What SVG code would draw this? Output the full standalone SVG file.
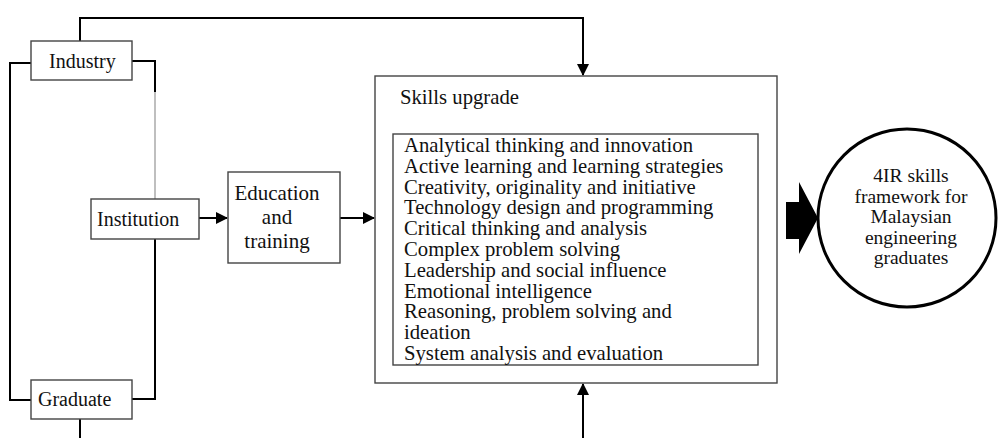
<svg xmlns="http://www.w3.org/2000/svg" width="998" height="438" viewBox="0 0 998 438">
<defs>
<style>
.box{fill:#fff;stroke:#444;stroke-width:1.4}
.ln{fill:none;stroke:#000;stroke-width:2}
.t{font-family:"Liberation Serif","Times New Roman",serif;font-size:20px;fill:#111}
.l{font-size:20.7px}
.e{font-size:21px}
.r{font-size:19.5px}
.c{text-anchor:middle}
</style>
<marker id="ah" markerWidth="12" markerHeight="12" refX="11" refY="6" orient="auto" markerUnits="userSpaceOnUse">
<path d="M0,0 L12,6 L0,12 Z" fill="#000"/>
</marker>
</defs>
<rect width="998" height="438" fill="#fff"/>
<g id="connectors">
<polyline class="ln" points="80,41 80,18 583,18 583,75" marker-end="url(#ah)"/>
<polyline class="ln" points="31,63 10,63 10,400 31,400"/>
<polyline class="ln" points="132,61 155,61 155,92"/>
<line x1="155" y1="92" x2="155" y2="199" stroke="#aaa" stroke-width="1.5"/>
<polyline class="ln" points="155,239 155,399 132,399"/>
<line class="ln" x1="80" y1="419" x2="80" y2="438"/>
<line class="ln" x1="199" y1="218" x2="227" y2="218" marker-end="url(#ah)"/>
<line class="ln" x1="340" y1="218" x2="374" y2="218" marker-end="url(#ah)"/>
<line class="ln" x1="583" y1="438" x2="583" y2="384" marker-end="url(#ah)"/>
<polygon points="786,202 799,202 799,182 818,218 799,254 799,239 786,239" fill="#000"/>
</g>
<g id="industry">
<rect class="box" x="31" y="41" width="101" height="39"/>
<text class="t" x="49" y="68">Industry</text>
</g>
<g id="institution">
<rect class="box" x="91" y="199" width="108" height="40"/>
<text class="t" x="97" y="226">Institution</text>
</g>
<g id="graduate">
<rect class="box" x="31" y="380" width="101" height="39"/>
<text class="t" x="38" y="406">Graduate</text>
</g>
<g id="education">
<rect class="box" x="228" y="172" width="112" height="91"/>
<text class="t e c" x="277" y="200">Education</text>
<text class="t e c" x="277" y="224">and</text>
<text class="t e c" x="277" y="248">training</text>
</g>
<g id="skills">
<rect class="box" x="375" y="76" width="402" height="307"/>
<text class="t l" x="400" y="104">Skills upgrade</text>
<rect class="box" x="393" y="134" width="365" height="231" stroke="#333"/>
<g class="t l">
<text x="404" y="152">Analytical thinking and innovation</text>
<text x="404" y="172.8">Active learning and learning strategies</text>
<text x="404" y="193.6">Creativity, originality and initiative</text>
<text x="404" y="214.4">Technology design and programming</text>
<text x="404" y="235.2">Critical thinking and analysis</text>
<text x="404" y="256">Complex problem solving</text>
<text x="404" y="276.8">Leadership and social influence</text>
<text x="404" y="297.6">Emotional intelligence</text>
<text x="404" y="318.4">Reasoning, problem solving and</text>
<text x="404" y="339.2">ideation</text>
<text x="404" y="360">System analysis and evaluation</text>
</g>
</g>
<g id="framework">
<circle cx="907" cy="218" r="89" fill="#fff" stroke="#000" stroke-width="3"/>
<text class="t r c" x="911" y="182">4IR skills</text>
<text class="t r c" x="911" y="202.5">framework for</text>
<text class="t r c" x="911" y="223">Malaysian</text>
<text class="t r c" x="911" y="243.5">engineering</text>
<text class="t r c" x="911" y="264">graduates</text>
</g>
</svg>
